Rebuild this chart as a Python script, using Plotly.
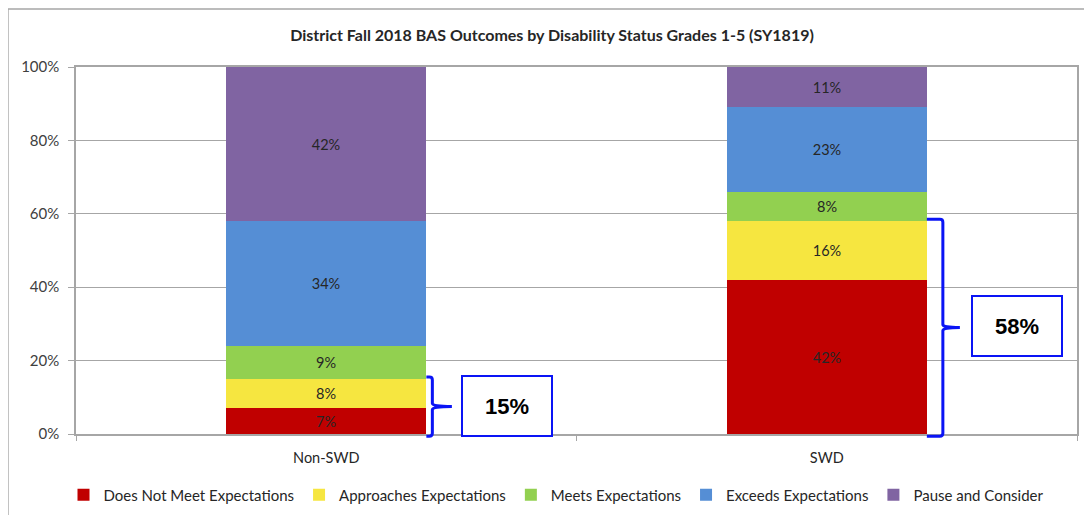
import plotly.graph_objects as go

# data
groups = ["Non-SWD", "SWD"]
series = ["Does Not Meet Expectations", "Approaches Expectations",
          "Meets Expectations", "Exceeds Expectations", "Pause and Consider"]
does_not_meet = [7, 42]
approaches = [8, 16]
meets = [9, 8]
exceeds = [34, 23]
pause = [42, 11]
y_ticks = [0, 20, 40, 60, 80, 100]
y_labels = ["0%", "20%", "40%", "60%", "80%", "100%"]

values = [does_not_meet, approaches, meets, exceeds, pause]
bar_colors = ["#C00000", "#F6E640", "#92D050", "#558ED5", "#8064A2"]
xpos = list(range(len(groups)))
font_main = "Lato, Open Sans, Arial, sans-serif"

# page has an 8px body margin, so the figure is drawn 8px smaller
W, H = 1084, 507

fig = go.Figure()
for name, vals, col in zip(series, values, bar_colors):
    fig.add_trace(go.Bar(
        x=xpos, y=vals, name=name, width=0.4,
        marker=dict(color=col, line=dict(width=0)),
        text=[f"{v}%" for v in vals], textposition="inside",
        insidetextanchor="middle", textangle=0,
        textfont=dict(size=14.5, color="#262626", family=font_main),
        hoverinfo="skip",
    ))


def px(x):
    # x axis runs -0.5..1.5, convert to paper fraction so brackets are not clipped
    return (x + 0.5) / 2.0


# curly brackets + boxed totals for "below expectations" share
below = [a + b for a, b in zip(does_not_meet, approaches)]
box_pos = [(0.362, 7.6), (1.381, 29.4)]
brace_dx = [(0.012, 0.051), (0.032, 0.066)]
for i, tot in enumerate(below):
    x0 = px(xpos[i] + 0.2)
    xv = px(xpos[i] + 0.2 + brace_dx[i][0])
    xt = px(xpos[i] + 0.2 + brace_dx[i][1])
    yt = (tot + 0.5) / 100
    yb = -0.006
    ym = tot / 200
    r = 0.008
    c = 0.003
    path = (f"M {x0},{yt} L {xv - c},{yt} Q {xv},{yt} {xv},{yt - r} "
            f"L {xv},{ym + r} Q {xv},{ym} {xt},{ym} Q {xv},{ym} {xv},{ym - r} "
            f"L {xv},{yb + r} Q {xv},{yb} {xv - c},{yb} L {x0},{yb}")
    fig.add_shape(type="path", path=path, xref="paper", yref="paper",
                  line=dict(color="#0A14F5", width=3), layer="above")
    fig.add_annotation(x=box_pos[i][0], y=box_pos[i][1], xref="x", yref="y",
                       text=f"<b>{tot}%</b>", showarrow=False,
                       width=88, height=58, bgcolor="white",
                       bordercolor="#0A14F5", borderwidth=2, borderpad=0,
                       font=dict(size=22, color="black", family="Arial, Liberation Sans, sans-serif"))

# outer chart frame
fig.add_shape(type="rect", xref="paper", yref="paper",
              x0=-0.068, x1=1.05, y0=-0.4, y1=1.158,
              line=dict(color="#A6A6A6", width=1.5), layer="below")

fig.update_layout(
    width=W, height=H,
    margin=dict(l=68, r=15, t=59, b=81, autoexpand=False),
    paper_bgcolor="white", plot_bgcolor="white",
    barmode="stack", bargap=0,
    title=dict(text="<b>District Fall 2018 BAS Outcomes by Disability Status Grades 1-5 (SY1819)</b>",
               x=544 / W, xanchor="center", y=1 - 27 / H, yanchor="middle",
               font=dict(size=16, color="#262626", family=font_main)),
    font=dict(family=font_main, color="#404040", size=13),
    legend=dict(orientation="h", xref="container", x=548 / W, xanchor="center",
                yref="container", y=1 - 487 / H, yanchor="middle",
                traceorder="normal", font=dict(size=15, color="#262626"),
                itemwidth=30, tracegroupgap=0),
    showlegend=True,
)
fig.update_xaxes(range=[-0.5, 1.5], tickvals=xpos, ticktext=groups,
                 ticks="outside", ticklen=10, tickcolor="rgba(0,0,0,0)",
                 showgrid=False, zeroline=False,
                 showline=True, linecolor="#A6A6A6", linewidth=1.5, mirror=True,
                 tickfont=dict(size=14.5, color="#262626"),
                 minor=dict(tickvals=[-0.5, 0.5, 1.5], ticks="outside", ticklen=5,
                            tickcolor="#A6A6A6", showgrid=False))
fig.update_yaxes(range=[0, 100], tickvals=y_ticks, ticktext=y_labels,
                 ticks="outside", ticklen=6, tickcolor="#A6A6A6", ticklabelstandoff=6,
                 showgrid=True, gridcolor="#A6A6A6", gridwidth=1.2, zeroline=False,
                 showline=True, linecolor="#A6A6A6", linewidth=1.5, mirror=True,
                 tickfont=dict(size=15, color="#404040"))

fig.write_html("out.html")
